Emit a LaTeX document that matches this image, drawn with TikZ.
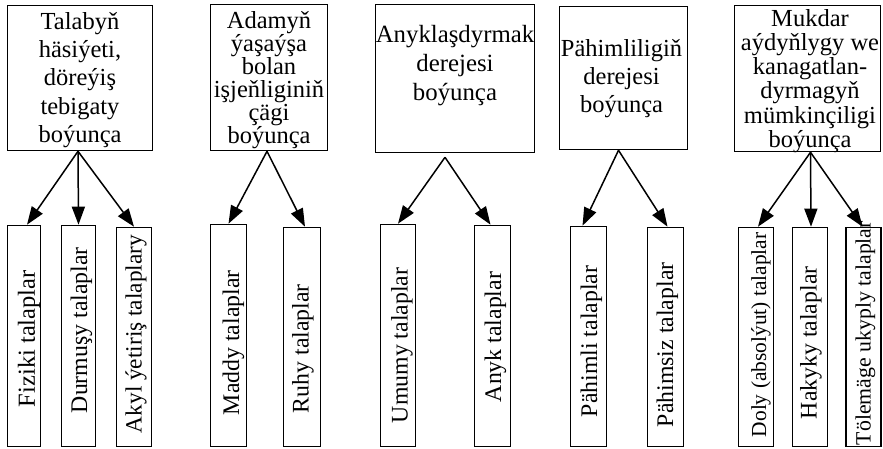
\documentclass[tikz,border=0pt]{standalone}
\usepackage{fontspec}
\setmainfont{Liberation Serif}
\usetikzlibrary{arrows.meta}
\begin{document}
\begin{tikzpicture}[x=1pt,y=-1pt,
  box/.style={draw, line width=1.6pt, inner sep=0pt},
  toptext/.style={align=center, inner sep=0pt, font=\fontsize{24.5}{#1}\selectfont},
  toptext/.default=26,
  vtext/.style={rotate=90, anchor=west, inner sep=0pt, font=\fontsize{23.8}{28}\selectfont},
  arr/.style={line width=1.5pt, -{Triangle[length=18pt,width=13pt]}}]
\useasboundingbox (0,0) rectangle (883,449);

% top boxes
\node[box, minimum width=145pt, minimum height=145pt] (b1) at (80,78) {};
\node[box, minimum width=117pt, minimum height=146pt] (b2) at (269,77.5) {};
\node[box, minimum width=159pt, minimum height=148pt] (b3) at (455,78.5) {};
\node[box, minimum width=128pt, minimum height=143pt] (b4) at (623.5,78) {};
\node[box, minimum width=146pt, minimum height=146pt] (b5) at (807.5,78.5) {};

\node[toptext=28.25] (t1) at (80,80) {Talabyň\\häsiýeti,\\döreýiş\\tebigaty\\boýunça};
\node[toptext=23] (t2) at (269,80) {Adamyň\\ýaşaýşa\\bolan\\işjeňliginiň\\çägi\\boýunça};
\node[toptext=29, font=\fontsize{24.8}{29}\selectfont] (t3) at (455,66) {Anyklaşdyrmak\\derejesi\\boýunça};
\node[toptext=28] (t4) at (621.5,79) {Pähimliligiň\\derejesi\\boýunça};
\node[toptext=24.2] (t5) at (810,81) {Mukdar\\aýdyňlygy we\\kanagatlan-\\dyrmagyň\\mümkinçiligi\\boýunça};

% bottom boxes
\node[box, minimum width=33pt, minimum height=221pt] (f1) at (24,336) {};
\node[box, minimum width=34pt, minimum height=221pt] (f2) at (78.5,336) {};
\node[box, minimum width=35pt, minimum height=219pt] (f3) at (134,337) {};
\node[box, minimum width=36pt, minimum height=222pt] (m1) at (228.5,335.5) {};
\node[box, minimum width=37pt, minimum height=219pt] (m2) at (302,337) {};
\node[box, minimum width=35pt, minimum height=222pt] (u1) at (398,335.5) {};
\node[box, minimum width=36pt, minimum height=221pt] (u2) at (492.5,336) {};
\node[box, minimum width=36pt, minimum height=220pt] (p1) at (588.5,336.5) {};
\node[box, minimum width=36pt, minimum height=219pt] (p2) at (665.5,337) {};
\node[box, minimum width=35pt, minimum height=219pt] (d1) at (756,337) {};
\node[box, minimum width=35pt, minimum height=219pt] (d2) at (810,337) {};
\node[box, minimum width=35pt, minimum height=219pt] (d3) at (863.5,337) {};

\node[vtext, font=\fontsize{24.5}{28}\selectfont] (f1t) at ([xshift=5pt,yshift=40pt]f1.south) {Fiziki talaplar};
\node[vtext] (f2t) at ([xshift=3pt,yshift=34pt]f2.south) {Durmuşy talaplar};
\node[vtext, font=\fontsize{23.3}{28}\selectfont] (f3t) at ([xshift=2pt,yshift=14pt]f3.south) {Akyl ýetiriş talaplary};
\node[vtext] (m1t) at ([xshift=5pt,yshift=32pt]m1.south) {Maddy talaplar};
\node[vtext] (m2t) at ([xshift=1pt,yshift=34pt]m2.south) {Ruhy talaplar};
\node[vtext] (u1t) at ([xshift=4pt,yshift=24pt]u1.south) {Umumy talaplar};
\node[vtext] (u2t) at ([xshift=3pt,yshift=45pt]u2.south) {Anyk talaplar};
\node[vtext] (p1t) at ([xshift=3pt,yshift=30pt]p1.south) {Pähimli talaplar};
\node[vtext] (p2t) at ([xshift=2pt,yshift=20pt]p2.south) {Pähimsiz talaplar};
\node[vtext, font=\fontsize{21.4}{26}\selectfont] (d1t) at ([xshift=5pt,yshift=10pt]d1.south) {Doly (absolýut) talaplar};
\node[vtext] (d2t) at ([xshift=1pt,yshift=28pt]d2.south) {Hakyky talaplar};
\node[vtext, font=\fontsize{21.8}{26}\selectfont] (d3t) at ([xshift=2pt,yshift=2pt]d3.south) {Tölemäge ukyply talaplar};

% arrows
\draw[arr] ([xshift=-2pt]b1.south) -- ([xshift=3pt]f1.north);
\draw[arr] ([xshift=-2pt]b1.south) -- (f2.north);
\draw[arr] ([xshift=-2pt]b1.south) -- (f3.north);
\draw[arr] ([xshift=-2pt]b2.south) -- (m1.north);
\draw[arr] ([xshift=-2pt]b2.south) -- ([xshift=3pt]m2.north);
\draw[arr] ([xshift=-10pt,yshift=-4pt]b3.south) -- (u1.north);
\draw[arr] ([xshift=-10pt,yshift=-4pt]b3.south) -- ([xshift=-2pt]u2.north);
\draw[arr] ([xshift=-5pt]b4.south) -- ([xshift=-6pt]p1.north);
\draw[arr] ([xshift=-5pt]b4.south) -- ([xshift=2pt]p2.north);
\draw[arr] ([xshift=3pt]b5.south) -- ([xshift=2pt]d1.north);
\draw[arr] ([xshift=3pt]b5.south) -- ([xshift=1pt]d2.north);
\draw[arr] ([xshift=3pt]b5.south) -- ([xshift=-1pt]d3.north);
\end{tikzpicture}
\end{document}
